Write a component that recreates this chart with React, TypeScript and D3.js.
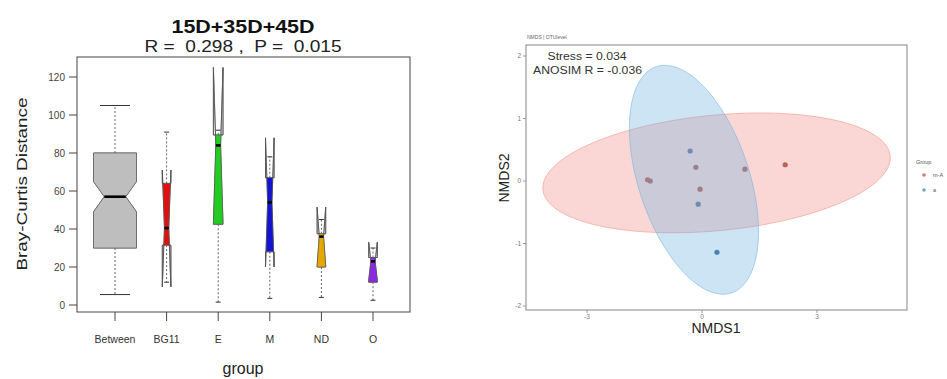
import React from "react";
import * as d3 from "d3";

// ---------- Left panel: notched boxplots of Bray-Curtis distance ----------
const groups = ["Between", "BG11", "E", "M", "ND", "O"];
const whiskerLow = [5.5, 12, 1.5, 3.5, 4, 2.5];
const q1 = [30, 31.5, 42.5, 28, 20, 12];
const medians = [57, 40.5, 84, 54, 36, 23];
const q3 = [80, 64, 89.5, 67, 37.5, 25];
const whiskerHigh = [105, 91, 92, 78, 45, 30];
const notchLow = [49, 9.5, 43, 20, 20.5, 13];
const notchHigh = [65, 71, 125, 88, 51.5, 33];
const yTicksLeft = [0, 20, 40, 60, 80, 100, 120];

// ---------- Right panel: NMDS ----------
const nmds1 = [-1.42, -1.35, -0.16, -0.05, 1.12, 2.17, -0.31, -0.1, 0.39];
const nmds2 = [0.02, 0.0, 0.22, -0.13, 0.19, 0.26, 0.48, -0.37, -1.14];
const nmdsGroup = ["A", "A", "A", "A", "A", "A", "B", "B", "B"];
const ellipseGroup = ["A", "B"];
const ellipseCx = [0.38, -0.21];
const ellipseCy = [0.13, 0.02];
const ellipseU = [[4.53, 0.27], [-0.98, 1.81]];
const ellipseV = [[0.146, -0.92], [1.37, 0.28]];
const legendLabels = ["m-A", "a"];
const xTicksRight = [-3, 0, 3];
const yTicksRight = [-2, -1, 0, 1, 2];

const boxFill: Record<string, string> = {
  Between: "#BEBEBE",
  BG11: "#E01010",
  E: "#22CC22",
  M: "#1414D0",
  ND: "#E6A800",
  O: "#8A2BE2",
};
const pointFill: Record<string, string> = { A: "#9A4A44", B: "#2E6E9E" };
const ellFill: Record<string, string> = { A: "#F18D84", B: "#70B2E2" };
const legendFill: Record<string, string> = { A: "#D9786E", B: "#6FA6CF" };

const FONT = "'Liberation Sans', Arial, Helvetica, sans-serif";

export default function App() {
  const W = 947;
  const H = 379;

  const xL = d3.scalePoint<string>().domain(groups).range([115, 373]);
  const yL = d3.scaleLinear().domain([0, 120]).range([305, 77]);

  const xN = d3.scaleLinear().domain([-3, 3]).range([587, 817]);
  const yN = d3.scaleLinear().domain([-2, 2]).range([306, 56]);

  const boxes = groups.map((g, i) => {
    const c = xL(g) as number;
    const w = g === "Between" ? 21.5 : g === "E" ? 4.8 : 4.3;
    const nw = w / 2;
    const pts: [number, number][] = [
      [c - w, yL(q1[i])],
      [c - w, yL(notchLow[i])],
      [c - nw, yL(medians[i])],
      [c - w, yL(notchHigh[i])],
      [c - w, yL(q3[i])],
      [c + w, yL(q3[i])],
      [c + w, yL(notchHigh[i])],
      [c + nw, yL(medians[i])],
      [c + w, yL(notchLow[i])],
      [c + w, yL(q1[i])],
    ];
    const d = "M" + pts.map((p) => p.join(",")).join("L") + "Z";
    const cap = g === "Between" ? 15 : 2.5;
    return { g, i, c, w, nw, d, cap };
  });

  const ellipseLine = d3
    .line<[number, number]>()
    .x((p) => xN(p[0]))
    .y((p) => yN(p[1]))
    .curve(d3.curveLinearClosed);
  const ts = d3.range(0, Math.PI * 2, 0.04);
  const ellipses = ellipseGroup.map((g, k) => {
    const pts: [number, number][] = ts.map((t) => [
      ellipseCx[k] + Math.cos(t) * ellipseU[k][0] + Math.sin(t) * ellipseV[k][0],
      ellipseCy[k] + Math.cos(t) * ellipseU[k][1] + Math.sin(t) * ellipseV[k][1],
    ]);
    return { g, d: ellipseLine(pts) as string };
  });

  return (
    <svg
      width={W}
      height={H}
      style={{ position: "absolute", left: 0, top: 0, background: "#fff" }}
      fontFamily={FONT}
    >
      <rect x={0} y={0} width={W} height={H} fill="#fff" />
      {/* ---------------- Left panel ---------------- */}
      <text x={243} y={33} textAnchor="middle" fontSize={18} fontWeight="bold" fill="#111" textLength={143} lengthAdjust="spacingAndGlyphs">
        15D+35D+45D
      </text>
      <text x={243} y={52} textAnchor="middle" fontSize={16} fill="#222" textLength={197} lengthAdjust="spacingAndGlyphs" style={{ whiteSpace: "pre" }}>
        {"R =  0.298 ,  P =  0.015"}
      </text>

      <defs>
        {boxes.map((b) => (
          <clipPath id={`boxclip${b.i}`} key={b.g}>
            <rect x={b.c - b.w - 2} y={yL(q3[b.i])} width={2 * b.w + 4} height={yL(q1[b.i]) - yL(q3[b.i])} />
          </clipPath>
        ))}
      </defs>

      {boxes.map((b) => (
        <g key={b.g}>
          <line x1={b.c} x2={b.c} y1={yL(q3[b.i])} y2={yL(whiskerHigh[b.i])} stroke="#666" strokeWidth={1} strokeDasharray="2,2" />
          <line x1={b.c} x2={b.c} y1={yL(q1[b.i])} y2={yL(whiskerLow[b.i])} stroke="#666" strokeWidth={1} strokeDasharray="2,2" />
          <line x1={b.c - b.cap} x2={b.c + b.cap} y1={yL(whiskerHigh[b.i])} y2={yL(whiskerHigh[b.i])} stroke="#333" strokeWidth={1} />
          <line x1={b.c - b.cap} x2={b.c + b.cap} y1={yL(whiskerLow[b.i])} y2={yL(whiskerLow[b.i])} stroke="#333" strokeWidth={1} />
          <path d={b.d} fill="#fff" fillRule="evenodd" stroke="#555" strokeWidth={0.9} />
          <path d={b.d} fill={boxFill[b.g]} fillRule="evenodd" stroke="none" clipPath={`url(#boxclip${b.i})`} />
          <path d={b.d} fill="none" stroke="#555" strokeWidth={0.6} />
          <line x1={b.c - b.nw} x2={b.c + b.nw} y1={yL(medians[b.i])} y2={yL(medians[b.i])} stroke="#000" strokeWidth={2.6} />
        </g>
      ))}

      <rect x={77} y={57} width={333} height={255} fill="none" stroke="#444" strokeWidth={1} />
      {yTicksLeft.map((t) => (
        <g key={t}>
          <line x1={69} x2={77} y1={yL(t)} y2={yL(t)} stroke="#444" strokeWidth={1} />
          <text x={65} y={yL(t)} dy="0.35em" textAnchor="end" fontSize={10} fill="#444">
            {t}
          </text>
        </g>
      ))}
      {groups.map((g) => (
        <g key={g}>
          <line x1={xL(g)} x2={xL(g)} y1={312} y2={321} stroke="#444" strokeWidth={1} />
          <text x={xL(g)} y={343} textAnchor="middle" fontSize={10.5} fill="#333">
            {g}
          </text>
        </g>
      ))}
      <text x={243} y={374} textAnchor="middle" fontSize={16} fill="#222">
        group
      </text>
      <text
        transform="translate(27,184) rotate(-90)"
        textAnchor="middle"
        fontSize={15}
        fill="#222"
        textLength={173}
        lengthAdjust="spacingAndGlyphs"
      >
        Bray-Curtis Distance
      </text>

      {/* ---------------- Right panel ---------------- */}
      <text x={527} y={39} fontSize={5} fill="#666">
        NMDS | OTUlevel
      </text>
      {nmds1.map((v, i) => (
        <circle key={i} cx={xN(v)} cy={yN(nmds2[i])} r={2.6} fill={pointFill[nmdsGroup[i]]} />
      ))}
      {ellipses.map((e) => (
        <path key={e.g} d={e.d} fill={ellFill[e.g]} fillOpacity={0.35} stroke={ellFill[e.g]} strokeOpacity={0.8} strokeWidth={0.7} />
      ))}
      <rect x={526} y={45} width={381} height={265} fill="none" stroke="#999" strokeWidth={1.2} />
      {yTicksRight.map((t) => (
        <g key={t}>
          <line x1={523} x2={526} y1={yN(t)} y2={yN(t)} stroke="#999" strokeWidth={1} />
          <text x={521} y={yN(t)} dy="0.35em" textAnchor="end" fontSize={6.5} fill="#777">
            {t}
          </text>
        </g>
      ))}
      {xTicksRight.map((t) => (
        <g key={t}>
          <line x1={xN(t)} x2={xN(t)} y1={310} y2={313} stroke="#999" strokeWidth={1} />
          <text x={xN(t)} y={319} textAnchor="middle" fontSize={6.5} fill="#777">
            {t}
          </text>
        </g>
      ))}
      <text x={587} y={60} textAnchor="middle" fontSize={10} fill="#333" textLength={79} lengthAdjust="spacingAndGlyphs">
        Stress = 0.034
      </text>
      <text x={587.5} y={74} textAnchor="middle" fontSize={10} fill="#333" textLength={109} lengthAdjust="spacingAndGlyphs">
        ANOSIM R = -0.036
      </text>
      <text x={716} y={333} textAnchor="middle" fontSize={14} fill="#222">
        NMDS1
      </text>
      <text transform="translate(509,178) rotate(-90)" textAnchor="middle" fontSize={14} fill="#222">
        NMDS2
      </text>

      {/* legend */}
      <text x={916} y={164} fontSize={5.5} fill="#555">
        Group
      </text>
      {ellipseGroup.map((g, k) => (
        <g key={g}>
          <circle cx={924} cy={175 + k * 15} r={1.8} fill={legendFill[g]} />
          <text x={933} y={177 + k * 15} fontSize={5.5} fill="#555">
            {legendLabels[k]}
          </text>
        </g>
      ))}
    </svg>
  );
}
